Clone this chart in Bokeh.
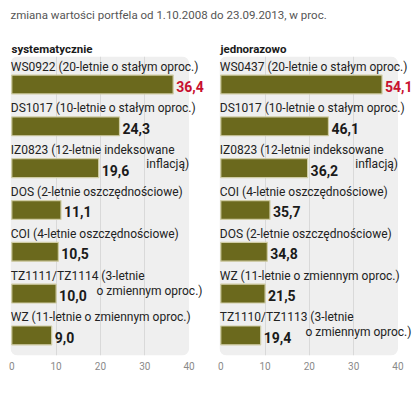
from bokeh.plotting import figure
from bokeh.layouts import column, row
from bokeh.models import Range1d, FixedTicker, BoxAnnotation, ColumnDataSource
from bokeh.core.properties import value
from bokeh.embed import file_html
from bokeh.resources import INLINE

subtitle = "zmiana wartości portfela od 1.10.2008 do 23.09.2013, w proc."

title_l = "systematycznie"
labels_l = ["WS0922 (20-letnie o stałym oproc.)",
            "DS1017 (10-letnie o stałym oproc.)",
            "IZ0823 (12-letnie indeksowane",
            "DOS (2-letnie oszczędnościowe)",
            "COI (4-letnie oszczędnościowe)",
            "TZ1111/TZ1114 (3-letnie",
            "WZ (11-letnie o zmiennym oproc.)"]
values_l = [36.4, 24.3, 19.6, 11.1, 10.5, 10.0, 9.0]
bars_l = [36.4, 24.3, 19.6, 11.1, 10.5, 10.0, 9.0]
cont_l = {2: "inflacją)", 5: "o zmiennym oproc.)"}

title_r = "jednorazowo"
labels_r = ["WS0437 (20-letnie o stałym oproc.)",
            "DS1017 (10-letnie o stałym oproc.)",
            "IZ0823 (12-letnie indeksowane",
            "COI (4-letnie oszczędnościowe)",
            "DOS (2-letnie oszczędnościowe)",
            "WZ (11-letnie  o zmiennym oproc.)",
            "TZ1110/TZ1113 (3-letnie"]
values_r = [54.1, 46.1, 36.2, 35.7, 34.8, 21.5, 19.4]
# bar lengths as drawn in the source graphic (same as the left panel)
bars_r = [36.4, 24.3, 19.6, 11.1, 10.5, 10.0, 9.0]
cont_r = {2: "inflacją)", 6: "o zmiennym oproc.)"}

x_ticks = [0, 10, 20, 30, 40]

FONT = "Roboto"
BAR_COLOR = "#6b691d"
RED = "#c8102e"


def panel(title, labels, vals, bars, cont, frame_w, border_left, border_right, x_end):
    p = figure(frame_width=frame_w, frame_height=299, output_backend="svg",
               toolbar_location=None,
               x_range=Range1d(-0.29, x_end), y_range=Range1d(6.48, -0.67),
               min_border_left=border_left, min_border_right=border_right,
               min_border_top=0, min_border_bottom=0,
               y_axis_location=None)
    p.title.text = title
    p.title.text_font = FONT
    p.title.text_font_size = "11.5px"
    p.title.text_font_style = "bold"
    p.title.text_color = "#1a1a1a"
    p.title.align = "left"
    p.title.offset = 1
    p.title.standoff = 2
    p.outline_line_color = None
    p.border_fill_color = "white"
    p.background_fill_color = "white"

    p.add_layout(BoxAnnotation(right=40, fill_color="#efefef", fill_alpha=1,
                               line_color=None, level="image", border_radius=7))

    p.ygrid.visible = False
    p.xgrid.ticker = FixedTicker(ticks=[10, 20, 30])
    p.xgrid.grid_line_color = "#d9d9d9"
    p.xgrid.grid_line_width = 1

    p.xaxis.ticker = FixedTicker(ticks=x_ticks)
    p.xaxis.axis_line_color = None
    p.xaxis.major_tick_line_color = None
    p.xaxis.minor_tick_line_color = None
    p.xaxis.major_label_standoff = 0
    p.xaxis.major_label_text_font = FONT
    p.xaxis.major_label_text_font_size = "10px"
    p.xaxis.major_label_text_color = "#8a8a8a"

    idx = list(range(len(labels)))
    txt = [f"{v:.1f}".replace(".", ",") for v in vals]
    colors = [RED] + ["#1a1a1a"] * (len(vals) - 1)
    src = ColumnDataSource(dict(y=idx, bar=bars, lab=labels, txt=txt, col=colors))

    p.hbar(y="y", left=0, right="bar", height=0.45, source=src,
           fill_color=BAR_COLOR, line_color="#cfcca4", line_width=1.2)
    p.text(x=0, y="y", text="lab", source=src, y_offset=-18, x_offset=-1,
           text_font=value(FONT), text_font_size="12px",
           text_baseline="middle", text_align="left", text_color="#222222")
    p.text(x="bar", y="y", text="txt", source=src, x_offset=3, y_offset=2,
           text_font=value(FONT), text_font_size="14px", text_font_style="bold",
           text_baseline="middle", text_align="left", text_color="col")
    # continuation lines of two-line labels
    rows = sorted(cont)
    first = rows[0]
    second = rows[1]
    p.text(x=[40], y=[first], text=[cont[first]], y_offset=-4,
           text_font=value(FONT), text_font_size="12px",
           text_baseline="middle", text_align="right", text_color="#222222")
    p.text(x=[19.1], y=[second], text=[cont[second]], y_offset=-3,
           text_font=value(FONT), text_font_size="12px",
           text_baseline="middle", text_align="left", text_color="#222222")
    return p


left = panel(title_l, labels_l, values_l, bars_l, cont_l, 203, 10, 0, 45.5)
right = panel(title_r, labels_r, values_r, bars_r, cont_r, 197, 6, 4, 44.18)

header = figure(width=420, height=38, output_backend="svg", toolbar_location=None,
                x_range=Range1d(0, 1), y_range=Range1d(0, 1),
                min_border_left=10, min_border_right=0, min_border_top=0, min_border_bottom=0,
                x_axis_location=None, y_axis_location=None)
header.title.text = subtitle
header.title.text_font = FONT
header.title.text_font_size = "11.5px"
header.title.text_font_style = "normal"
header.title.text_color = "#555555"
header.title.align = "left"
header.title.offset = 0
header.grid.visible = False
header.outline_line_color = None

layout = column(header, row(left, right))
open("out.html", "w").write(file_html(layout, INLINE))
